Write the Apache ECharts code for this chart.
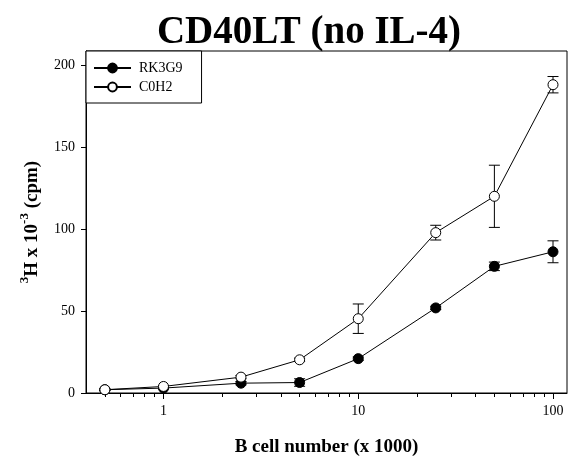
<!DOCTYPE html>
<html>
<head>
<meta charset="utf-8">
<script src="https://cdn.jsdelivr.net/npm/echarts@6/dist/echarts.min.js"></script>
<style>
  html, body { margin: 0; padding: 0; background: #fff; }
  #chart { width: 574px; height: 462px; }
</style>
</head>
<body>
<div id="chart"></div>
<script>
// B cell number (x 1000)
var cells = [0.5, 1, 2.5, 5, 10, 25, 50, 100];
// RK3G9 (filled)
var rkVals = [2, 3, 6, 6.4, 21, 52, 77.4, 86.3];
var rkErr = [0.5, 0.5, 1, 2.3, 1, 1, 2.6, 6.7];
// C0H2 (open)
var c0Vals = [2, 4, 9.7, 20.3, 45.4, 98, 120.2, 188.4];
var c0Err = [0.5, 0.5, 1, 1, 9, 4.5, 19, 5];

var yTicks = [0, 50, 100, 150, 200];
var xLabels = [1, 10, 100];
var xMinor = [0.5, 0.6, 0.7, 0.8, 0.9, 2, 3, 4, 5, 6, 7, 8, 9, 20, 30, 40, 50, 60, 70, 80, 90];

var serif = "'Liberation Serif', 'Times New Roman', serif";

function pairs(xs, ys) {
  return xs.map(function (x, i) { return [x, ys[i]]; });
}
function errData(xs, ys, es) {
  return xs.map(function (x, i) { return [x, ys[i] - es[i], ys[i] + es[i]]; });
}

function renderErr(params, api) {
  var lo = api.coord([api.value(0), api.value(1)]);
  var hi = api.coord([api.value(0), api.value(2)]);
  var w = 5.5;
  var st = { stroke: '#000', lineWidth: 1 };
  return {
    type: 'group',
    children: [
      { type: 'line', shape: { x1: lo[0], y1: lo[1], x2: hi[0], y2: hi[1] }, style: st },
      { type: 'line', shape: { x1: lo[0] - w, y1: lo[1], x2: lo[0] + w, y2: lo[1] }, style: st },
      { type: 'line', shape: { x1: hi[0] - w, y1: hi[1], x2: hi[0] + w, y2: hi[1] }, style: st }
    ]
  };
}

var chart = echarts.init(document.getElementById('chart'), null, { renderer: 'canvas' });

var xBase = {
  type: 'log',
  logBase: 10,
  min: 0.4,
  max: 118,
  gridIndex: 0,
  position: 'bottom',
  splitLine: { show: false },
  minorTick: { show: false },
  minorSplitLine: { show: false }
};

chart.setOption({
  animation: false,
  backgroundColor: '#fff',
  textStyle: { fontFamily: serif, color: '#000' },
  title: {
    text: 'CD40LT (no IL-4)',
    left: 304,
    textAlign: 'center',
    top: 8,
    textStyle: { fontFamily: serif, fontSize: 39, fontWeight: 'bold', color: '#000' }
  },
  legend: {
    data: ['RK3G9', 'C0H2'],
    orient: 'vertical',
    left: 86,
    top: 51,
    padding: [10, 19, 9, 7],
    itemWidth: 37,
    itemHeight: 11,
    itemGap: 5,
    borderColor: '#000',
    borderWidth: 1,
    backgroundColor: '#fff',
    textStyle: { fontFamily: serif, fontSize: 14, color: '#000', padding: [0, 0, 0, 3] }
  },
  grid: {
    left: 86, right: 7, top: 51, bottom: 67,
    show: true, borderColor: '#000', borderWidth: 1, backgroundColor: 'transparent'
  },
  xAxis: [
    Object.assign({}, xBase, {
      name: 'B cell number (x 1000)',
      nameLocation: 'middle',
      nameGap: 45,
      nameTextStyle: { fontFamily: serif, fontSize: 19, fontWeight: 'bold', color: '#000' },
      axisLine: { show: true, lineStyle: { color: '#000', width: 1 } },
      axisTick: { show: true, inside: false, length: 6, customValues: xLabels, lineStyle: { color: '#000' } },
      axisLabel: { show: true, margin: 11, customValues: xLabels, fontFamily: serif, fontSize: 14, color: '#000' }
    }),
    Object.assign({}, xBase, {
      axisLine: { show: false },
      axisTick: { show: true, inside: false, length: 4, customValues: xMinor, lineStyle: { color: '#000' } },
      axisLabel: { show: false }
    })
  ],
  yAxis: {
    type: 'value',
    min: 0,
    max: 209,
    name: '{s|3}{b|H x 10}{s|-3}{b| (cpm)}',
    nameLocation: 'middle',
    nameGap: 44,
    nameRotate: 90,
    nameTextStyle: {
      fontFamily: serif, fontSize: 19, fontWeight: 'bold', color: '#000',
      rich: {
        b: { fontFamily: serif, fontSize: 19, fontWeight: 'bold', color: '#000', lineHeight: 24, verticalAlign: 'bottom' },
        s: { fontFamily: serif, fontSize: 13, fontWeight: 'bold', color: '#000', lineHeight: 14, verticalAlign: 'top' }
      }
    },
    splitLine: { show: false },
    axisLine: { show: true, lineStyle: { color: '#000', width: 1 } },
    axisTick: { show: true, inside: false, length: 5, customValues: yTicks, lineStyle: { color: '#000' } },
    axisLabel: { customValues: yTicks, margin: 11, fontFamily: serif, fontSize: 14, color: '#000' }
  },
  series: [
    {
      name: 'RK3G9-err', type: 'custom', xAxisIndex: 0, z: 1,
      renderItem: renderErr, data: errData(cells, rkVals, rkErr), silent: true
    },
    {
      name: 'C0H2-err', type: 'custom', xAxisIndex: 0, z: 1,
      renderItem: renderErr, data: errData(cells, c0Vals, c0Err), silent: true
    },
    {
      name: 'RK3G9', type: 'line', xAxisIndex: 0, z: 3,
      data: pairs(cells, rkVals),
      symbol: 'circle', symbolSize: 10, showAllSymbol: true,
      lineStyle: { color: '#000', width: 1 },
      itemStyle: { color: '#000', borderColor: '#000', borderWidth: 1 }
    },
    {
      name: 'C0H2', type: 'line', xAxisIndex: 0, z: 4,
      data: pairs(cells, c0Vals),
      symbol: 'circle', symbolSize: 10, showAllSymbol: true,
      lineStyle: { color: '#000', width: 1 },
      itemStyle: { color: '#fff', borderColor: '#000', borderWidth: 1 }
    }
  ]
});
</script>
</body>
</html>
